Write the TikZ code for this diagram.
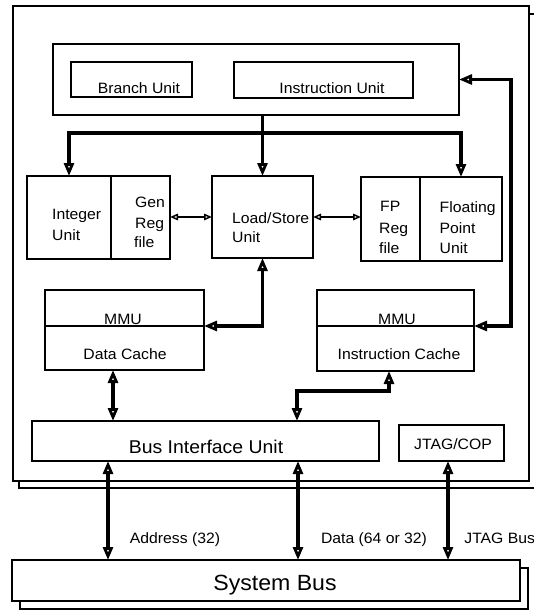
\documentclass[tikz,border=0pt]{standalone}
\usepackage{fontspec}
\setmainfont{Liberation Sans}[FakeStretch=1.05]
\usetikzlibrary{arrows.meta}

% A box given by its top-left and bottom-right corners (in pt, y downwards)
\newcommand{\unitbox}[5]{%
  \node[box, minimum width={#4-#2}, minimum height={#5-#3}] (#1) at (#2,#3) {};}

\begin{document}
\begin{tikzpicture}[x=1pt, y=-1pt,
  box/.style={draw, line width=1.3pt, inner sep=0pt, outer sep=0pt,
              anchor=north west, fill=white},
  lbl/.style={inner sep=0pt, font=\fontsize{15}{18}\selectfont},
  biglbl/.style={inner sep=0pt, font=\fontsize{18.5}{22}\selectfont},
  hugelbl/.style={inner sep=0pt, font=\fontsize{22}{26}\selectfont},
  bus/.style={line width=3.3pt,
              >={Triangle[open, length=13pt, width=10pt, line width=2.8pt]}},
  regpath/.style={line width=1.5pt,
              >={Triangle[open, length=8pt, width=6.5pt, line width=1.5pt]}},
]
\useasboundingbox (0,0) rectangle (534,615);

% processor outline with its shadow
\unitbox{chipshadow}{19}{14}{537}{488}
\unitbox{chip}{13}{6}{529}{481}

% fetch / dispatch
\unitbox{top}{53}{44}{459}{115}
\unitbox{branch}{71}{62}{192}{97}
\unitbox{instr}{234}{62}{413}{98}

% execution units
\unitbox{intu}{27}{176}{111}{259}
\unitbox{genreg}{111}{176}{170}{259}
\unitbox{lsu}{212}{176}{313}{258}
\unitbox{fpreg}{361}{177}{420}{261}
\unitbox{fpu}{420}{177}{502}{261}

% caches
\unitbox{mmud}{45}{290}{204}{326}
\unitbox{dcache}{45}{326}{204}{370}
\unitbox{mmui}{317}{290}{474}{326}
\unitbox{icache}{317}{326}{474}{371}

% bus interface and test port
\unitbox{biu}{32}{421}{379}{461}
\unitbox{jtag}{399}{425}{504}{461}

% system bus with its shadow
\unitbox{sysshadow}{20}{568}{528}{609}
\unitbox{sysbus}{12}{560}{520}{601}

% ---- texts ----
\node[lbl, anchor=base] (tBranch) at (139,93.5) {Branch Unit};
\node[lbl, anchor=base] (tInstr) at (332,93.5) {Instruction Unit};

\node[lbl, anchor=base west] (tInt1) at (52,219.7) {Integer};
\node[lbl, anchor=base west] (tInt2) at (52,240.2) {Unit};
\node[lbl, anchor=base west] (tGen1) at (135,207) {Gen};
\node[lbl, anchor=base west] (tGen2) at (135,228.3) {Reg};
\node[lbl, anchor=base west] (tGen3) at (134,247.5) {file};

\node[lbl, anchor=base west] (tLs1) at (232,223.3) {Load/Store};
\node[lbl, anchor=base west] (tLs2) at (232,242.8) {Unit};

\node[lbl, anchor=base west] (tFp1) at (380,211.7) {FP};
\node[lbl, anchor=base west] (tFp2) at (379,233.4) {Reg};
\node[lbl, anchor=base west] (tFp3) at (379,253.2) {file};
\node[lbl, anchor=base west] (tFl1) at (439.5,212) {Floating};
\node[lbl, anchor=base west] (tFl2) at (439.5,233.4) {Point};
\node[lbl, anchor=base west] (tFl3) at (439.5,253.2) {Unit};

\node[lbl, anchor=base] (tMmuD) at (123,324.5) {MMU};
\node[lbl, anchor=base] (tDc) at (125,359.2) {Data Cache};
\node[lbl, anchor=base] (tMmuI) at (397,324.5) {MMU};
\node[lbl, anchor=base] (tIc) at (399,359.2) {Instruction Cache};

\node[biglbl, anchor=base] (tBiu) at (206,453) {Bus Interface Unit};
\node[lbl, anchor=base] (tJtag) at (453,449) {JTAG/COP};

\node[lbl, anchor=base west] (tAddr) at (129.7,543.8) {Address (32)};
\node[lbl, anchor=base west] (tData) at (320.8,543.8) {Data (64 or 32)};
\node[lbl, anchor=base west] (tJbus) at (464.2,543.8) {JTAG Bus};

\node[hugelbl, anchor=base] (tSys) at (275,590) {System Bus};

% ---- connectors ----
\coordinate (dispatch) at (261,133);
\draw[bus,<->] (intu.north) |- (dispatch) -| (fpu.north);
\draw[bus,->] (top.south -| lsu.north) -- (lsu.north);

\draw[regpath,<->] (genreg.east |- lsu.west) -- (lsu.west);
\draw[regpath,<->] (lsu.east) -- (lsu.east -| fpreg.west);

\draw[bus,<->] (lsu.south) |- (dcache.north east);

\coordinate (loop) at (511,0);
\draw[bus,<->] (top.east) -| (loop |- icache.north east) -- (icache.north east);

\coordinate (dcx) at (113,0);
\draw[bus,<->] (dcache.south -| dcx) -- (biu.north -| dcx);

\coordinate (icx) at (389,391);
\coordinate (bix) at (297,391);
\draw[bus,<->] (icache.south -| icx) -- (icx) -- (bix) -- (biu.north -| bix);

\coordinate (ax) at (108,0);
\coordinate (dx) at (298,0);
\coordinate (jx) at (448,0);
\draw[bus,<->] (biu.south -| ax) -- (sysbus.north -| ax);
\draw[bus,<->] (biu.south -| dx) -- (sysbus.north -| dx);
\draw[bus,<->] (jtag.south -| jx) -- (sysbus.north -| jx);
\end{tikzpicture}
\end{document}
